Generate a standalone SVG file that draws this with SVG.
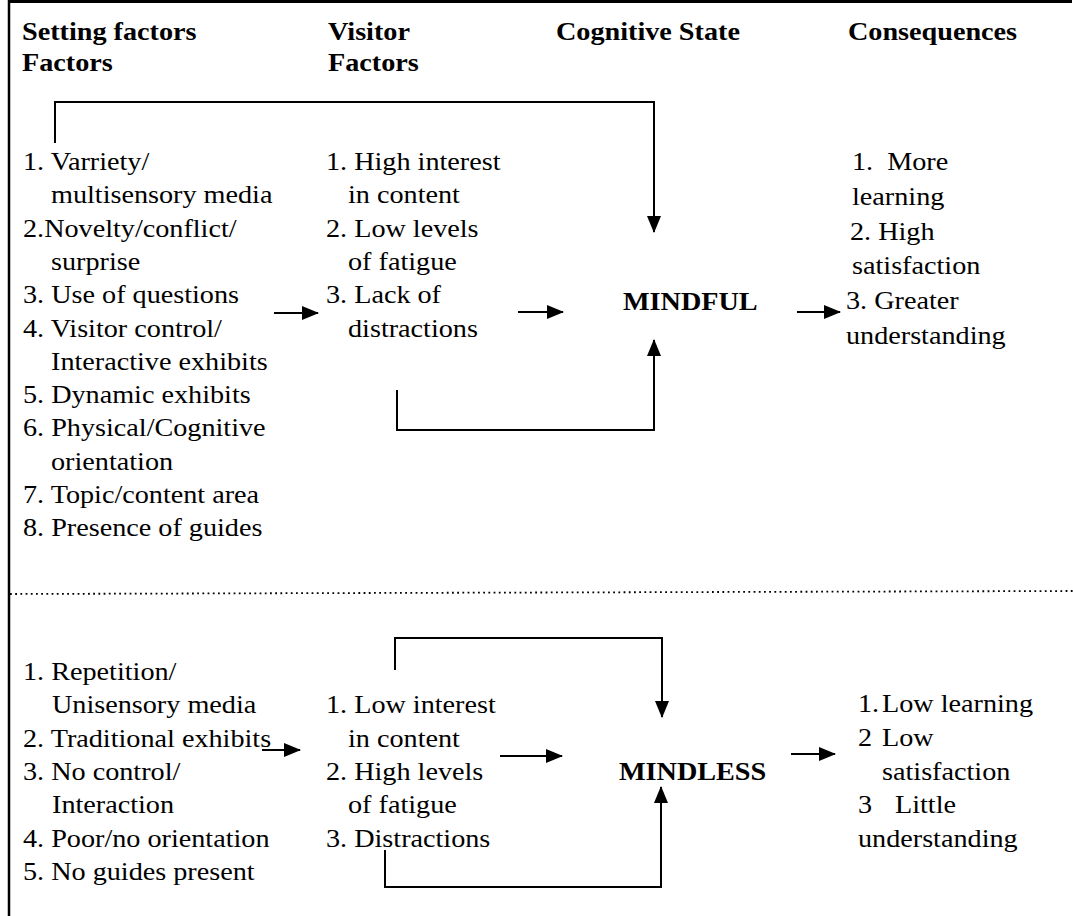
<svg xmlns="http://www.w3.org/2000/svg" width="1073" height="916" viewBox="0 0 1073 916">
<style>
text{font-family:"Liberation Serif","Times New Roman",serif;font-size:25px;fill:#000}
.b{font-weight:bold}
.arr{fill:none;stroke:#000;stroke-width:2;marker-end:url(#ah)}
</style>
<defs>
<marker id="ah" markerUnits="userSpaceOnUse" markerWidth="17" markerHeight="14" refX="16" refY="7" orient="auto">
<path d="M0,0 L17,7 L0,14 Z" fill="#000"/>
</marker>
</defs>
<rect width="1073" height="916" fill="#fff"/>
<g id="frame">
<path d="M8,1.5 H1072" stroke="#000" stroke-width="3" fill="none"/>
<path d="M9,0 V916" stroke="#000" stroke-width="2.5" fill="none"/>
<path d="M10,594 L1073,591" stroke="#000" stroke-width="1.8" stroke-dasharray="1.8 3.4" fill="none"/>
</g>
<g id="headers">
<text class="b" transform="translate(22,40) scale(1.128,1)">Setting factors</text>
<text class="b" transform="translate(22,71) scale(1.128,1)">Factors</text>
<text class="b" transform="translate(328,40) scale(1.128,1)">Visitor</text>
<text class="b" transform="translate(328,71) scale(1.128,1)">Factors</text>
<text class="b" transform="translate(556,40) scale(1.128,1)">Cognitive State</text>
<text class="b" transform="translate(848,40) scale(1.128,1)">Consequences</text>
</g>
<g id="setting-mindful">
<text transform="translate(23,170) scale(1.128,1)">1. Varriety/</text>
<text transform="translate(51,203) scale(1.128,1)">multisensory media</text>
<text transform="translate(23,237) scale(1.128,1)">2.Novelty/conflict/</text>
<text transform="translate(51,270) scale(1.128,1)">surprise</text>
<text transform="translate(23,303) scale(1.128,1)">3. Use of questions</text>
<text transform="translate(23,337) scale(1.128,1)">4. Visitor control/</text>
<text transform="translate(51,370) scale(1.128,1)">Interactive exhibits</text>
<text transform="translate(23,403) scale(1.128,1)">5. Dynamic exhibits</text>
<text transform="translate(23,436) scale(1.128,1)">6. Physical/Cognitive</text>
<text transform="translate(51,470) scale(1.128,1)">orientation</text>
<text transform="translate(23,503) scale(1.128,1)">7. Topic/content area</text>
<text transform="translate(23,536) scale(1.128,1)">8. Presence of guides</text>
</g>
<g id="visitor-mindful">
<text transform="translate(326,170) scale(1.128,1)">1. High interest</text>
<text transform="translate(348,203) scale(1.128,1)">in content</text>
<text transform="translate(326,237) scale(1.128,1)">2. Low levels</text>
<text transform="translate(348,270) scale(1.128,1)">of fatigue</text>
<text transform="translate(326,303) scale(1.128,1)">3. Lack of</text>
<text transform="translate(348,337) scale(1.128,1)">distractions</text>
</g>
<g id="mindful">
<text class="b" transform="translate(623,310) scale(1.128,1)">MINDFUL</text>
</g>
<g id="consequences-mindful">
<text transform="translate(852,170) scale(1.128,1)" xml:space="preserve">1.  More</text>
<text transform="translate(852,205) scale(1.128,1)">learning</text>
<text transform="translate(850,240) scale(1.128,1)">2. High</text>
<text transform="translate(852,274) scale(1.128,1)">satisfaction</text>
<text transform="translate(846,309) scale(1.128,1)">3. Greater</text>
<text transform="translate(846,344) scale(1.128,1)">understanding</text>
</g>
<g id="setting-mindless">
<text transform="translate(23,680) scale(1.128,1)">1. Repetition/</text>
<text transform="translate(52,713) scale(1.128,1)">Unisensory media</text>
<text transform="translate(23,747) scale(1.128,1)">2. Traditional exhibits</text>
<text transform="translate(23,780) scale(1.128,1)">3. No control/</text>
<text transform="translate(52,813) scale(1.128,1)">Interaction</text>
<text transform="translate(23,847) scale(1.128,1)">4. Poor/no orientation</text>
<text transform="translate(23,880) scale(1.128,1)">5. No guides present</text>
</g>
<g id="visitor-mindless">
<text transform="translate(326,713) scale(1.128,1)">1. Low interest</text>
<text transform="translate(348,747) scale(1.128,1)">in content</text>
<text transform="translate(326,780) scale(1.128,1)">2. High levels</text>
<text transform="translate(348,813) scale(1.128,1)">of fatigue</text>
<text transform="translate(326,847) scale(1.128,1)">3. Distractions</text>
</g>
<g id="mindless">
<text class="b" transform="translate(619,780) scale(1.128,1)">MINDLESS</text>
</g>
<g id="consequences-mindless">
<text transform="translate(858,712) scale(1.128,1)">1.</text>
<text transform="translate(882,712) scale(1.128,1)">Low learning</text>
<text transform="translate(858,746) scale(1.128,1)">2</text>
<text transform="translate(882,746) scale(1.128,1)">Low</text>
<text transform="translate(882,780) scale(1.128,1)">satisfaction</text>
<text transform="translate(858,813) scale(1.128,1)">3</text>
<text transform="translate(895,813) scale(1.128,1)">Little</text>
<text transform="translate(858,847) scale(1.128,1)">understanding</text>
</g>
<g id="connectors">
<path class="arr" d="M55,143 V102 H654 V232"/>
<path class="arr" d="M397,390 V430 H654 V340"/>
<path class="arr" d="M274,313 H318"/>
<path class="arr" d="M518,312 H563"/>
<path class="arr" d="M797,312 H840"/>
<path class="arr" d="M395,670 V638 H662 V717"/>
<path class="arr" d="M385,850 V887 H661 V787"/>
<path class="arr" d="M262,750 H300"/>
<path class="arr" d="M500,756 H562"/>
<path class="arr" d="M791,754 H835"/>
</g>
</svg>
